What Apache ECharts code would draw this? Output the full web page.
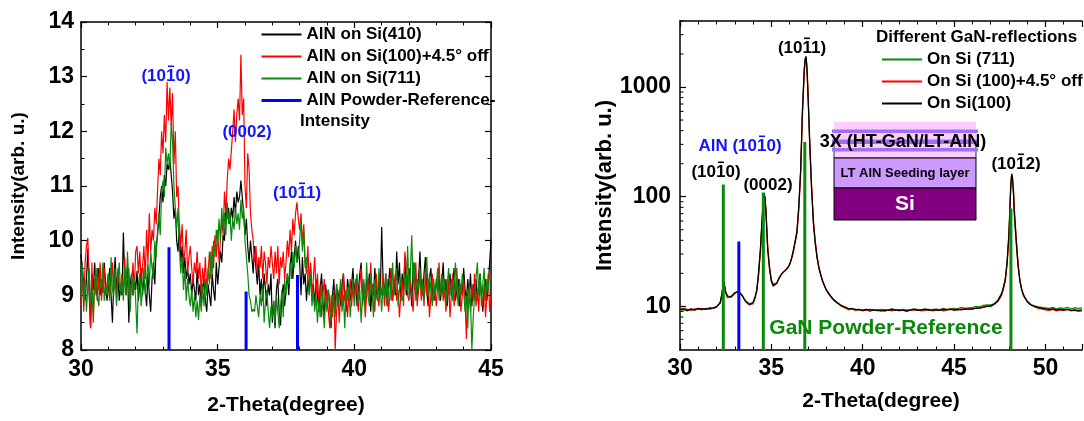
<!DOCTYPE html>
<html>
<head>
<meta charset="utf-8">
<script src="https://cdn.jsdelivr.net/npm/echarts@6/dist/echarts.min.js"></script>
<style>
  html, body { margin: 0; padding: 0; background: #fff; }
  #chart { width: 1084px; height: 421px; }
</style>
</head>
<body>
<div id="chart"></div>
<script>
// left panel: AlN scans, one value every 0.05 deg from 30 to 45
var leftStart = 30
var leftStep = 0.05

var alnSi410 = [
  9.75, 9.5, 9.2, 8.9, 9.3, 9.85, 9.0, 8.4, 9.4, 9.1,
  9.6, 9.2, 8.9, 9.5, 9.0, 9.3, 9.05, 9.6, 9.2, 8.9,
  9.1, 9.5, 9.0, 8.5, 9.3, 9.7, 9.1, 9.4, 8.9, 9.2,
  9.0, 10.15, 9.3, 9.0, 9.55, 8.5, 9.2, 9.4, 9.0, 9.3,
  9.1, 9.45, 8.9, 9.2, 9.5, 9.0, 9.3, 9.1, 8.8, 9.4,
  9.0, 8.7, 9.3, 9.6, 9.2, 9.9, 10.1, 10.4, 10.8, 11.0,
  10.7, 11.2, 11.0, 11.4, 11.3, 11.5, 11.2, 10.9, 10.4, 10.6,
  10.0, 9.8, 10.3, 9.6, 9.9, 9.4, 9.7, 9.3, 9.5, 9.2,
  9.4, 9.0, 9.3, 9.1, 8.9, 9.5, 9.0, 9.2, 8.8, 9.1,
  9.3, 8.9, 8.7, 9.2, 9.0, 8.8, 9.4, 9.1, 8.9, 9.6,
  9.2, 9.5, 9.8, 9.6, 10.1, 10.0, 10.7, 10.4, 10.6, 10.3,
  10.6, 10.4, 10.8, 10.5, 10.9, 10.7, 10.8, 11.1, 10.8, 10.5,
  10.1, 10.4, 9.9, 9.6, 10.0, 9.7, 9.4, 9.9, 9.5, 9.2,
  9.6, 9.0, 9.3, 8.9, 9.4, 9.1, 8.8, 9.2, 9.0, 9.4,
  8.5, 8.9, 8.4, 9.1, 9.3, 8.7, 8.45, 9.0, 9.2, 8.8,
  9.1, 9.4, 9.0, 9.5, 9.8, 9.3, 9.7, 10.0, 9.6, 9.9,
  9.6, 9.0, 9.7, 9.2, 9.4, 8.9, 9.3, 9.1, 9.5, 9.0,
  9.2, 8.8, 9.3, 9.0, 8.7, 9.1, 9.4, 8.9, 8.6, 9.2,
  8.9, 9.1, 8.8, 8.4, 9.0, 9.3, 8.7, 9.2, 8.9, 9.1,
  8.8, 9.2, 9.4, 9.0, 8.7, 9.3, 9.1, 8.9, 9.2, 9.5,
  9.0, 9.3, 8.8, 9.1, 9.4, 9.6, 9.0, 9.2, 8.9, 9.3,
  9.1, 9.4, 8.7, 9.2, 9.0, 9.5, 9.1, 8.9, 9.3, 9.0,
  10.25, 9.3, 9.0, 9.4, 8.8, 9.2, 9.5, 9.1, 8.9, 9.3,
  9.0, 9.8, 9.2, 9.6, 8.9, 9.4, 9.1, 9.7, 9.0, 9.3,
  9.5, 9.2, 8.8, 9.6, 9.1, 9.4, 8.9, 9.3, 9.8, 9.2,
  9.0, 9.4, 9.7, 9.1, 8.8, 9.3, 9.5, 9.0, 9.2, 8.9,
  9.3, 9.1, 9.4, 8.9, 9.2, 9.6, 9.0, 9.3, 8.8, 9.2,
  9.4, 9.0, 9.2, 9.5, 8.9, 9.1, 9.3, 8.8, 9.2, 9.0,
  9.5, 9.1, 8.9, 9.3, 9.0, 9.4, 8.8, 9.2, 9.0, 9.3,
  8.9, 9.2, 9.4, 9.0, 8.7, 9.1, 9.3, 8.9, 9.2, 9.6,
  10.0
]

var alnSi100off = [
  8.8, 9.4, 8.7, 9.6, 9.9, 10.05, 9.2, 8.4, 9.6, 8.5,
  9.3, 9.0, 9.5, 9.1, 9.6, 8.9, 9.3, 9.5, 9.0, 9.2,
  9.4, 9.0, 9.2, 9.6, 9.1, 9.3, 8.9, 9.5, 9.2, 9.1,
  9.4, 9.0, 9.7, 9.1, 9.3, 9.5, 8.9, 9.2, 9.6, 9.1,
  9.8, 9.9, 9.4, 9.8, 9.2, 9.5, 9.9, 9.3, 10.2, 9.6,
  10.5, 9.8, 10.2, 10.0, 10.6, 10.3, 10.9, 11.5, 11.2, 12.0,
  11.6, 12.3, 11.8, 12.9, 12.2, 12.8, 12.1, 12.7, 11.4, 12.0,
  10.8, 11.0, 10.2, 9.9, 10.3, 9.6, 9.8, 10.2, 9.4, 9.7,
  9.9, 9.5, 9.2, 9.6, 9.4, 9.8, 9.3, 9.6, 9.0, 9.5,
  9.2, 9.7, 9.1, 9.4, 9.8, 9.3, 9.9, 9.5, 10.1, 9.7,
  10.2, 9.6, 10.0, 10.4, 10.1, 10.9, 10.5, 11.1, 11.5, 11.3,
  11.3, 12.0, 12.4, 11.8, 12.3, 12.6, 12.2, 13.4, 12.3, 12.6,
  11.0, 10.6, 11.6, 11.3, 10.5, 10.2, 10.0, 9.6, 9.9, 9.4,
  9.7, 9.5, 9.9, 9.3, 9.8, 9.6, 9.2, 9.7, 9.5, 9.9,
  9.6, 9.3, 9.8, 9.4, 9.9, 9.2, 9.7, 9.5, 9.8, 9.3,
  9.6, 10.0, 9.7, 10.2, 9.8, 10.4, 10.1, 10.5, 10.7, 10.4,
  10.2, 10.5, 9.9, 10.3, 9.6, 9.4, 9.9, 9.2, 9.6, 9.0,
  9.3, 9.7, 9.0, 9.4, 8.9, 9.2, 8.6, 9.0, 9.3, 8.8,
  9.1, 8.7, 8.4, 9.0, 8.6, 9.1, 8.0, 8.7, 9.0, 8.5,
  9.2, 8.8, 9.4, 8.9, 9.1, 8.6, 9.0, 9.3, 8.8, 9.2,
  8.9, 9.3, 9.0, 8.7, 9.2, 9.5, 8.8, 9.1, 8.6, 9.0,
  9.3, 8.9, 9.6, 9.0, 9.2, 8.7, 9.4, 9.0, 8.8, 9.2,
  9.0, 9.4, 8.8, 9.1, 9.3, 8.7, 9.0, 9.5, 8.9, 9.2,
  9.4, 8.9, 9.1, 8.6, 9.0, 9.3, 8.8, 9.8, 9.5, 9.0,
  8.9, 9.3, 9.0, 8.7, 9.2, 9.6, 8.8, 9.1, 9.4, 8.9,
  9.2, 8.8, 9.5, 9.0, 9.3, 8.6, 9.0, 9.4, 8.9, 9.1,
  8.8, 9.2, 9.6, 9.0, 9.3, 8.9, 9.1, 8.7, 9.0, 9.3,
  8.6, 9.0, 9.4, 8.8, 9.1, 9.5, 8.9, 9.2, 8.7, 9.0,
  9.3, 8.9, 8.2, 9.1, 9.0, 8.7, 9.2, 8.9, 9.4, 8.8,
  9.1, 8.7, 9.3, 9.0, 8.8, 9.2, 8.6, 9.0, 9.4, 8.7,
  9.0
]

var alnSi711 = [
  9.0, 9.6, 8.8, 9.3, 8.7, 9.2, 9.5, 8.9, 9.1, 8.6,
  9.2, 9.5, 9.0, 8.8, 9.3, 9.1, 9.6, 8.9, 9.2, 9.0,
  9.4, 8.9, 9.7, 9.1, 9.0, 9.5, 8.8, 9.3, 9.6, 9.0,
  9.3, 8.9, 9.5, 9.0, 9.8, 9.2, 8.7, 9.4, 9.0, 9.3,
  8.9, 8.3, 9.2, 9.4, 8.8, 9.1, 9.5, 9.0, 9.3, 9.6,
  9.2, 9.8, 9.5, 9.3, 10.0, 9.7, 10.2, 10.5, 10.1, 10.9,
  11.1, 10.8, 11.7, 11.4, 11.6, 11.3, 12.15, 11.8, 11.0, 10.6,
  10.2, 10.6, 9.9, 9.4, 9.7, 9.1, 9.5, 8.9, 9.3, 9.0,
  8.8, 9.1, 8.7, 9.0, 8.6, 8.9, 8.55, 9.0, 8.7, 9.2,
  8.8, 9.3, 9.0, 9.5, 9.2, 9.8, 9.4, 10.0, 9.7, 10.2,
  9.9, 10.4, 10.0, 10.6, 10.2, 10.5, 10.1, 10.7, 10.3, 10.5,
  10.0, 10.4, 10.2, 10.6, 10.3, 10.5, 10.2, 10.75, 10.4, 10.6,
  10.0, 9.7, 9.4, 9.0, 8.9, 8.7, 8.75, 8.7, 9.0, 8.8,
  8.6, 9.0, 8.8, 9.2, 8.5, 8.9, 9.1, 8.7, 8.4, 8.8,
  8.6, 8.9, 8.5, 9.0, 8.7, 8.4, 8.8, 9.1, 8.6, 9.3,
  9.0, 9.4, 9.2, 9.6, 9.3, 9.8, 9.5, 9.9, 9.6, 9.7,
  10.0, 10.4, 9.8, 10.2, 9.5, 9.7, 9.2, 9.0, 9.4, 8.8,
  9.1, 8.7, 9.0, 8.5, 8.9, 8.6, 9.2, 8.8, 8.4, 9.0,
  8.7, 9.1, 8.8, 8.5, 9.0, 8.9, 8.6, 9.2, 8.8, 9.0,
  9.3, 8.7, 9.0, 8.4, 9.1, 8.9, 9.2, 8.6, 9.0, 9.3,
  8.8, 9.2, 9.4, 8.9, 9.1, 8.5, 9.0, 9.3, 8.7, 9.6,
  9.0, 8.8, 9.4, 9.1, 8.6, 9.3, 9.0, 8.9, 9.5, 9.1,
  8.7, 9.2, 9.0, 9.4, 8.8, 9.1, 9.3, 8.9, 9.6, 9.0,
  9.2, 9.5, 8.8, 9.1, 9.3, 8.9, 9.0, 9.4, 9.1, 9.9,
  9.0, 9.4, 10.1, 9.2, 9.6, 8.9, 9.3, 9.1, 9.5, 9.0,
  9.3, 8.9, 9.2, 9.7, 9.0, 9.4, 9.1, 8.8, 9.3, 9.0,
  9.2, 9.5, 8.9, 9.1, 9.4, 9.0, 9.3, 8.8, 9.2, 9.5,
  9.0, 9.3, 8.9, 9.2, 9.6, 9.1, 8.8, 9.3, 9.0, 9.4,
  9.1, 8.7, 9.0, 8.4, 9.2, 8.9, 8.0, 8.6, 9.0, 9.3,
  9.6, 9.0, 9.4, 8.8, 9.2, 9.5, 8.9, 9.3, 9.1, 9.4,
  9.3
]

// AlN powder reference sticks [2theta, intensity]
var alnRefPos = [33.22, 36.04, 37.92]
var alnRefLeft = [9.88, 9.07, 9.37]

// right panel: GaN scans (log scale)
var rightX = [
  30.0, 30.2, 30.4, 30.6, 30.8, 31.0, 31.2, 31.4, 31.6, 31.8, 32.0,
  32.1, 32.2, 32.3, 32.35, 32.4, 32.45, 32.5, 32.6, 32.7, 32.8, 32.9,
  33.0, 33.1, 33.2, 33.3, 33.4, 33.5, 33.6, 33.7, 33.8, 33.9,
  34.0, 34.1, 34.2, 34.3, 34.4, 34.5, 34.55, 34.6, 34.65, 34.7, 34.8, 34.9,
  35.0, 35.1, 35.2, 35.3, 35.4, 35.5, 35.6, 35.7, 35.8, 35.9,
  36.0, 36.1, 36.2, 36.3, 36.4, 36.5, 36.6, 36.7, 36.8, 36.85, 36.9, 36.95,
  37.0, 37.1, 37.2, 37.3, 37.4, 37.5, 37.6, 37.7, 37.8, 37.9,
  38.0, 38.2, 38.4, 38.6, 38.8,
  39.0, 39.2, 39.4, 39.6, 39.8,
  40.0, 40.2, 40.4, 40.6, 40.8,
  41.0, 41.2, 41.4, 41.6, 41.8,
  42.0, 42.2, 42.4, 42.6, 42.8,
  43.0, 43.2, 43.4, 43.6, 43.8,
  44.0, 44.2, 44.4, 44.6, 44.8,
  45.0, 45.2, 45.4, 45.6, 45.8,
  46.0, 46.2, 46.4, 46.6, 46.8,
  47.0, 47.2, 47.4, 47.6, 47.7, 47.8, 47.9,
  48.0, 48.05, 48.1, 48.15, 48.2, 48.25, 48.3, 48.4, 48.5, 48.6, 48.7, 48.8,
  49.0, 49.2, 49.4, 49.6, 49.8,
  50.0, 50.2, 50.4, 50.6, 50.8,
  51.0, 51.2, 51.4, 51.6, 51.8,
  52.0
]

var ganSi711 = [
  9.2, 9.3, 9.1, 9.4, 9.2, 9.5, 9.3, 9.6, 9.4, 9.6, 9.8,
  10.3, 11.0, 13.2, 15.6, 16.8, 14.8, 13.2, 12.0, 11.6, 12.1, 12.6,
  13.2, 13.7, 13.8, 13.4, 12.7, 11.9, 11.2, 10.8, 10.5, 10.4,
  10.9, 12.1, 14.2, 20.5, 34, 66, 92, 106, 98, 72, 33, 22,
  16.8, 15.2, 15.1, 16.3, 17.9, 19.1, 20.0, 20.9, 21.6, 22.6,
  24.2, 27.5, 32.5, 39.5, 49, 82, 175, 620, 1500, 1820, 1880, 1420,
  880, 290, 118, 57, 37.5, 27.5, 22.2, 19.2, 16.9, 15.4,
  14.0, 12.5, 11.4, 10.7, 10.1,
  9.7, 9.5, 9.6, 9.3, 9.4,
  9.3, 9.2, 9.4, 9.3, 9.2,
  9.4, 9.2, 9.3, 9.5, 9.3,
  9.2, 9.4, 9.3, 9.2, 9.5,
  9.4, 9.3, 9.5, 9.4, 9.3,
  9.5, 9.3, 9.6, 9.4, 9.5,
  9.6, 9.5, 9.8, 9.6, 9.7,
  9.8, 10.0, 9.9, 10.2, 10.3,
  10.3, 10.6, 11.4, 13.2, 15.0, 17.8, 26,
  47, 78, 128, 160, 145, 102, 66, 37, 23, 17, 14, 12.5,
  11.1, 10.4, 10.1, 9.9, 9.8,
  9.7, 9.6, 9.8, 9.5, 9.7,
  9.6, 9.8, 9.5, 9.7, 9.6,
  9.7
]

var ganSi100off = [
  9.3, 9.6, 9.4, 9.2, 9.5, 9.4, 9.6, 9.3, 9.7, 9.6, 10.0,
  10.1, 10.6, 12.6, 15.0, 16.6, 15.2, 13.6, 12.2, 11.8, 12.2, 12.7,
  13.1, 13.6, 13.6, 13.3, 12.6, 11.8, 11.0, 10.6, 10.3, 10.2,
  10.6, 11.7, 13.6, 19, 31, 60, 86, 105, 103, 80, 36, 23,
  17.5, 15.8, 15.5, 16.4, 17.6, 19.0, 20.0, 20.8, 21.5, 22.8,
  24, 27, 31, 38, 46, 75, 155, 540, 1350, 1750, 1900, 1550,
  1000, 330, 130, 62, 40, 29, 23, 19.8, 17.3, 15.7,
  14.3, 12.8, 11.6, 10.9, 10.3,
  9.8, 9.3, 9.5, 9.2, 9.4,
  9.1, 9.3, 9.0, 9.4, 9.1,
  9.2, 9.0, 9.3, 9.1, 9.4,
  9.1, 9.3, 9.0, 9.2, 9.3,
  9.3, 9.1, 9.2, 9.4, 9.1,
  9.2, 9.4, 9.1, 9.3, 9.5,
  9.2, 9.3, 9.5, 9.4, 9.6,
  9.4, 9.7, 9.6, 9.9, 10.1,
  10.0, 10.4, 11.1, 12.6, 14.3, 17.0, 24,
  42, 70, 118, 155, 158, 118, 78, 42, 25, 17.5, 14.5, 12.8,
  11.2, 10.4, 9.9, 9.6, 9.5,
  9.3, 9.2, 9.4, 9.1, 9.3,
  9.2, 9.4, 9.1, 9.2, 9.0,
  9.1
]

var ganSi100 = [
  9.4, 9.5, 9.2, 9.5, 9.3, 9.6, 9.4, 9.5, 9.6, 9.7, 9.9,
  10.2, 10.8, 13.0, 15.5, 17.0, 15.0, 13.5, 12.4, 12.0, 12.3, 12.8,
  13.3, 13.8, 13.7, 13.2, 12.5, 11.7, 11.1, 10.7, 10.4, 10.3,
  10.8, 12.0, 14.0, 20, 33, 65, 90, 108, 100, 75, 33, 22,
  17, 15.5, 15.3, 16.2, 17.8, 19, 20.2, 21.0, 21.5, 22.5,
  24, 27, 32, 39, 48, 80, 170, 600, 1450, 1800, 1900, 1450,
  900, 300, 120, 58, 38, 28, 22.5, 19.5, 17, 15.5,
  14.2, 12.6, 11.5, 10.8, 10.2,
  9.9, 9.6, 9.5, 9.4, 9.3,
  9.2, 9.4, 9.3, 9.2, 9.3,
  9.1, 9.3, 9.2, 9.4, 9.2,
  9.3, 9.2, 9.1, 9.3, 9.4,
  9.2, 9.3, 9.4, 9.2, 9.3,
  9.3, 9.2, 9.4, 9.3, 9.4,
  9.3, 9.4, 9.3, 9.5, 9.4,
  9.5, 9.6, 9.7, 9.8, 10.0,
  10.1, 10.5, 11.3, 13.0, 14.8, 17.5, 25,
  45, 75, 125, 162, 150, 108, 70, 40, 24, 17, 14.2, 12.6,
  11.0, 10.3, 10.0, 9.8, 9.6,
  9.5, 9.4, 9.5, 9.3, 9.4,
  9.3, 9.4, 9.2, 9.3, 9.2,
  9.3
]

// powder reference sticks for the right panel
var ganRefPos = [32.37, 34.56, 36.83, 48.11]
var ganRefInt = [129, 109, 315, 78]
var alnRefRight = [39]

// log-axis minor tick values
var logMinor = [5, 6, 7, 8, 9, 20, 30, 40, 50, 60, 70, 80, 90,
  200, 300, 400, 500, 600, 700, 800, 900, 2000, 3000, 4000]

var FONT = 'Liberation Sans, Arial, sans-serif'

function pairs(vals) {
  return vals.map(function (v, i) {
    return [+(leftStart + i * leftStep).toFixed(2), v]
  })
}
function zipX(xs, ys) {
  return xs.map(function (x, i) { return [x, ys[i]] })
}
// sticks drawn as a broken line: base -> height, then a gap
function sticks(pos, hts, base) {
  var out = []
  pos.forEach(function (p, i) {
    out.push([p, base], [p, hts[i]], [p, '-'])
  })
  return out
}

var axisLine = { show: true, onZero: false, lineStyle: { color: '#000', width: 1.5 } }
var tickStyle = { show: true, inside: true, length: 6, lineStyle: { color: '#000', width: 1.2 } }
var minorStyle = { show: true, length: 3.5, lineStyle: { color: '#000', width: 1 } }
var labelStyle = { color: '#000', fontFamily: FONT, fontWeight: 'bold', fontSize: 23 }

function xAx(grid, pos, min, max, withLabels, nameGap, labelMargin, showMax) {
  return {
    type: 'value', gridIndex: grid, position: pos, min: min, max: max, interval: 5,
    axisLine: axisLine, axisTick: tickStyle,
    minorTick: Object.assign({ splitNumber: 5 }, minorStyle),
    splitLine: { show: false },
    axisLabel: Object.assign({ show: withLabels, margin: labelMargin, showMaxLabel: showMax }, labelStyle),
    name: withLabels ? '2-Theta(degree)' : '', nameLocation: 'middle', nameGap: nameGap,
    nameTextStyle: { color: '#000', fontFamily: FONT, fontWeight: 'bold', fontSize: 21 }
  }
}

var leftLine = function (name, data, color) {
  return {
    name: name, type: 'line', xAxisIndex: 0, yAxisIndex: 0, data: pairs(data),
    symbol: 'none', lineStyle: { color: color, width: 1.2 }, itemStyle: { color: color },
    animation: false, z: 3
  }
}
var rightLine = function (name, data, color) {
  return {
    name: name, type: 'line', xAxisIndex: 2, yAxisIndex: 2, data: zipX(rightX, data),
    symbol: 'none', lineStyle: { color: color, width: 1.2 }, itemStyle: { color: color },
    animation: false, z: 3
  }
}

var textBold = function (txt, x, y, size, color, align) {
  return {
    type: 'text', x: x, y: y, z: 100,
    style: { text: txt, fill: color, font: 'bold ' + size + 'px ' + FONT,
      align: align || 'center', verticalAlign: 'middle' }
  }
}
// small overline bar for Miller-Bravais indices, dx from label centre
var overbar = function (cx, cy, dx, color) {
  return {
    type: 'rect', z: 101, shape: { x: cx + dx - 3, y: cy - 10.5, width: 6, height: 1.6 },
    style: { fill: color }
  }
}
var box = function (x, y, w, h, fill, stroke) {
  return {
    type: 'rect', z: 90, shape: { x: x, y: y, width: w, height: h },
    style: { fill: fill, stroke: stroke || null, lineWidth: stroke ? 1 : 0 }
  }
}

var myChart = echarts.init(document.getElementById('chart'), null, { renderer: 'canvas' })

var legendBase = {
  orient: 'vertical', itemWidth: 40, itemHeight: 12, itemGap: 5,
  selectedMode: false, itemStyle: { opacity: 0 },
  textStyle: { color: '#000', fontFamily: FONT, fontWeight: 'bold', fontSize: 17 }
}

var option = {
  animation: false,
  backgroundColor: '#fff',
  grid: [
    { left: 81, top: 22, width: 410, height: 329 },
    { left: 680, top: 21, width: 402, height: 329 }
  ],
  xAxis: [
    xAx(0, 'bottom', 30, 45, true, 45, 8, true),
    xAx(0, 'top', 30, 45, false, 0, 8, true),
    xAx(1, 'bottom', 30, 52, true, 41, 7, false),
    xAx(1, 'top', 30, 52, false, 0, 7, false)
  ],
  yAxis: [
    {
      type: 'value', gridIndex: 0, position: 'left', min: 8, max: 14, interval: 1,
      axisLine: axisLine, axisTick: tickStyle,
      minorTick: Object.assign({ splitNumber: 2 }, minorStyle),
      splitLine: { show: false },
      axisLabel: Object.assign({ margin: 7 }, labelStyle),
      name: 'Intensity(arb. u.)', nameLocation: 'middle', nameGap: 53,
      nameTextStyle: { color: '#000', fontFamily: FONT, fontWeight: 'bold', fontSize: 19 }
    },
    {
      type: 'value', gridIndex: 0, position: 'right', min: 8, max: 14, interval: 1,
      axisLine: axisLine, axisTick: tickStyle,
      minorTick: Object.assign({ splitNumber: 2 }, minorStyle),
      splitLine: { show: false }, axisLabel: { show: false }
    },
    {
      type: 'log', logBase: 10, gridIndex: 1, position: 'left', min: 4, max: 4000,
      axisLine: axisLine, axisTick: tickStyle,
      splitLine: { show: false },
      axisLabel: Object.assign({
        margin: 9, showMinLabel: false, showMaxLabel: false,
        formatter: function (v) { return String(Math.round(v)) }
      }, labelStyle),
      name: 'Intensity(arb. u.)', nameLocation: 'middle', nameGap: 64,
      nameTextStyle: { color: '#000', fontFamily: FONT, fontWeight: 'bold', fontSize: 22 }
    }
  ],
  legend: [
    Object.assign({}, legendBase, {
      left: 255, top: 21,
      data: ['AlN on Si(410)', 'AlN on Si(100)+4.5° off', 'AlN on Si(711)',
        { name: 'AlN Powder-Reference-', lineStyle: { width: 3 } }]
    }),
    Object.assign({}, legendBase, {
      left: 876, top: 46,
      data: ['On Si (711)', 'On Si (100)+4.5° off', 'On Si(100)']
    })
  ],
  series: [
    leftLine('AlN on Si(410)', alnSi410, '#000000'),
    leftLine('AlN on Si(100)+4.5° off', alnSi100off, '#ff0000'),
    leftLine('AlN on Si(711)', alnSi711, '#0a8a0a'),
    {
      name: 'AlN Powder-Reference-', type: 'line', xAxisIndex: 0, yAxisIndex: 0,
      data: sticks(alnRefPos, alnRefLeft, 8), connectNulls: false,
      symbol: 'none', lineStyle: { color: '#0000ff', width: 3 }, itemStyle: { color: '#0000ff' }, z: 4
    },
    rightLine('On Si (711)', ganSi711, '#0a8a0a'),
    rightLine('On Si (100)+4.5° off', ganSi100off, '#ff0000'),
    rightLine('On Si(100)', ganSi100, '#000000'),
    {
      name: 'GaN ref', type: 'line', xAxisIndex: 2, yAxisIndex: 2,
      data: sticks(ganRefPos, ganRefInt, 4), connectNulls: false,
      symbol: 'none', lineStyle: { color: '#0a8a0a', width: 3 }, z: 4
    },
    {
      name: 'AlN ref', type: 'line', xAxisIndex: 2, yAxisIndex: 2,
      data: sticks([alnRefPos[0]], alnRefRight, 4), connectNulls: false,
      symbol: 'none', lineStyle: { color: '#0000ff', width: 3 }, z: 4
    },
    {
      name: 'minor', type: 'custom', xAxisIndex: 2, yAxisIndex: 2, silent: true, clip: false,
      data: logMinor.map(function (v) { return [30, v] }),
      renderItem: function (params, api) {
        var p = api.coord([api.value(0), api.value(1)])
        return {
          type: 'line', shape: { x1: p[0], y1: p[1], x2: p[0] + 3.5, y2: p[1] },
          style: { stroke: '#000', lineWidth: 1 }
        }
      }
    }
  ],
  graphic: [
    // left panel peak labels
    textBold('(1010)', 166, 76, 17, '#1414ff'), overbar(166, 76, 5, '#1414ff'),
    textBold('(0002)', 247, 132, 17, '#1414ff'),
    textBold('(1011)', 297, 193, 17, '#1414ff'), overbar(297, 193, 5, '#1414ff'),
    textBold('Intensity', 300, 121, 17, '#000', 'left'),
    // right panel labels
    textBold('Different GaN-reflections', 876, 37, 17, '#000', 'left'),
    textBold('(1011)', 802, 48, 17, '#000'), overbar(802, 48, 5, '#000'),
    textBold('AlN (1010)', 740, 146, 17, '#1414ff'), overbar(740, 146, 22, '#1414ff'),
    textBold('(1010)', 716, 172, 17, '#000'), overbar(716, 172, 5, '#000'),
    textBold('(0002)', 768, 185, 17, '#000'),
    textBold('(1012)', 1016, 164, 17, '#000'), overbar(1016, 164, 5, '#000'),
    textBold('GaN Powder-Reference', 886, 328, 21, '#0a8a0a'),
    // layer stack inset
    box(834, 122, 142, 36, '#ffccff'),
    box(834, 143, 142, 15, '#ffccff', '#333'),
    box(832, 129.5, 146, 3.5, '#9f6ff5'),
    box(832, 139.5, 146, 3.5, '#9f6ff5'),
    box(832, 148, 146, 3.5, '#9f6ff5'),
    box(834, 158, 142, 30, '#cc99ff', '#000'),
    box(834, 188, 142, 32, '#800080', '#000'),
    textBold('3X (HT-GaN/LT-AlN)', 903, 142, 18, '#000'),
    textBold('LT AlN Seeding layer', 905, 173, 13, '#000'),
    textBold('Si', 905, 204, 21, '#fff')
  ]
}

myChart.setOption(option)
</script>
</body>
</html>
